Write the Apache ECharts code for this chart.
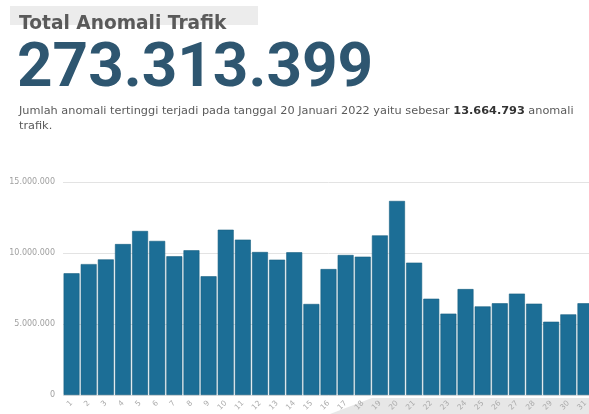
<!DOCTYPE html>
<html>
<head>
<meta charset="utf-8">
<script src="https://cdn.jsdelivr.net/npm/echarts@6/dist/echarts.min.js"></script>
<style>
html,body{margin:0;padding:0;background:#fff;overflow:hidden;width:589px;height:414px;}
#c{width:600px;height:414px;}
</style>
</head>
<body>
<div id="c"></div>
<script>
var categories = ['1','2','3','4','5','6','7','8','9','10','11','12','13','14','15','16','17','18','19','20','21','22','23','24','25','26','27','28','29','30','31'];
var anomalies = [8570000,9220000,9550000,10630000,11550000,10850000,9770000,10190000,8360000,11640000,10940000,10070000,9530000,10050000,6410000,8870000,9860000,9740000,11240000,13664793,9320000,6780000,5730000,7460000,6240000,6460000,7140000,6430000,5160000,5680000,6460000];
var yTicks = [0, 5000000, 10000000, 15000000];
var titleText = 'Total Anomali Trafik';
var totalText = '273.313.399';
var noteParts = ['Jumlah anomali tertinggi terjadi pada tanggal 20 Januari 2022 yaitu sebesar ', '13.664.793', ' anomali', 'trafik.'];

function fmt(v){ return String(v).replace(/\B(?=(\d{3})+(?!\d))/g, '.'); }

var chart = echarts.init(document.getElementById('c'), null, {renderer:'canvas'});
chart.setOption({
  animation:false,
  backgroundColor:'#ffffff',
  graphic:[
    {type:'rect', shape:{x:10,y:6,width:248,height:19}, style:{fill:'#ececec'}, z:0},
    {type:'text', left:19, top:15, style:{text:titleText, font:'bold 18.6px "DejaVu Sans"', fill:'#5a5a5a'}, z:1},
    {type:'text', left:17, top:39, style:{text:totalText, font:'bold 62px Roboto', fill:'#2e5670'}, z:1},
    {type:'text', left:19, top:106, style:{
      text:'{n|'+noteParts[0]+'}{b|'+noteParts[1]+'}{n|'+noteParts[2]+'}\n{n|'+noteParts[3]+'}',
      rich:{
        n:{font:'11.3px "DejaVu Sans"', fill:'#5a5a5a', lineHeight:15},
        b:{font:'bold 11.3px "DejaVu Sans"', fill:'#333', lineHeight:15}
      }}, z:1},
    {type:'polygon', shape:{points:[[330,414],[372,398],[600,398],[600,414]]}, style:{fill:'rgba(120,120,120,0.18)'}, z:0}
  ],
  grid:{left:63, right:6, top:182, bottom:19, containLabel:false},
  xAxis:{
    type:'category', data:categories,
    axisLine:{show:false}, axisTick:{show:false},
    axisLabel:{rotate:45, fontSize:7.5, color:'#aaa', margin:7, interval:0, fontFamily:'DejaVu Sans'}
  },
  yAxis:{
    type:'value', min:0, max:15000000, interval:5000000,
    axisLine:{show:false}, axisTick:{show:false},
    splitLine:{lineStyle:{color:'#e3e3e3', width:1}},
    axisLabel:{fontSize:8, color:'#a0a0a0', margin:8, fontFamily:'DejaVu Sans', formatter:function(v){return fmt(v);}}
  },
  series:[{
    type:'bar', data:anomalies, barCategoryGap:'7%',
    itemStyle:{color:'#1c6e96', borderColor:'#175f82', borderWidth:0.6}
  }]
});
</script>
</body>
</html>
